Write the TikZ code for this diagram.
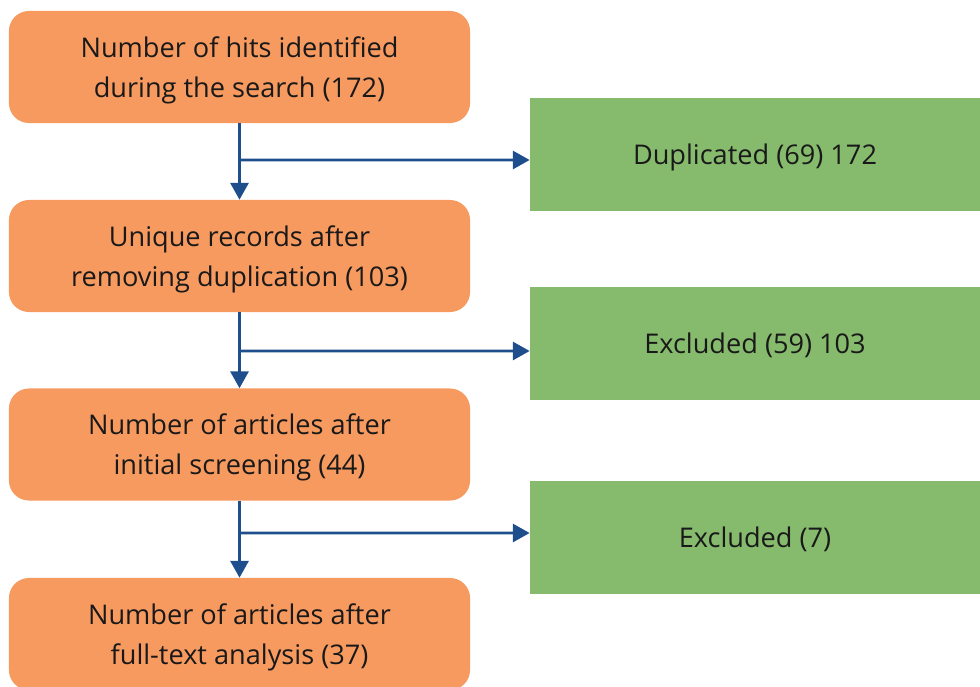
\documentclass[tikz,border=0pt]{standalone}
\usepackage{fontspec}
\setmainfont{Open Sans}
\usetikzlibrary{arrows.meta}
\definecolor{boxorange}{HTML}{F79A60}
\definecolor{boxgreen}{HTML}{86BB6D}
\definecolor{linkblue}{HTML}{1F4E8C}
\tikzset{
  flownode/.style = {align=center, inner sep=0pt, text centered, text depth=0pt,
    font=\fontsize{19.3}{28.5}\selectfont, text=black!90},
  stage/.style = {flownode, rectangle, rounded corners=0.5cm, fill=boxorange,
    minimum width=11.525cm, minimum height=2.8cm},% step of the selection
  dropped/.style = {flownode, rectangle, fill=boxgreen,
    minimum width=11.25cm, minimum height=2.83cm},% records left out
  link/.style = {draw=linkblue, line width=2pt,
    -{Triangle[length=0.42cm, width=0.45cm]}}
}
\begin{document}
\begin{tikzpicture}[x=0.025cm, y=-0.025cm]
\useasboundingbox (0,0) rectangle (980,686);
\clip (0,0) rectangle (980,686);
% selection steps
\node [stage] (hits) at (239.5,67) {Number of hits identified\\during the search (172)};
\node [stage] (unique) at (239.5,256) {Unique records after\\removing duplication (103)};
\node [stage] (screened) at (239.5,444.5) {Number of articles after\\initial screening (44)};
\node [stage] (fulltext) at (239.5,634) {Number of articles after\\full-text analysis (37)};
% excluded
\node [dropped] (dup) at (755,154.5) {Duplicated (69) 172};
\node [dropped] (excla) at (755,343.5) {Excluded (59) 103};
\node [dropped] (exclb) at (755,537.5) {Excluded (7)};
% connectors
\draw [link] (hits) -- (unique);
\draw [link] (unique) -- (screened);
\draw [link] (screened) -- (fulltext);
\draw [link] (hits.south |- dup.west) ++(0,5.5) -- ([yshift=-0.1375cm]dup.west);
\draw [link] (unique.south |- excla.west) ++(0,7.5) -- ([yshift=-0.1875cm]excla.west);
\draw [link] (screened.south |- exclb.west) ++(0,-4.5) -- ([yshift=0.1125cm]exclb.west);
\end{tikzpicture}
\end{document}
